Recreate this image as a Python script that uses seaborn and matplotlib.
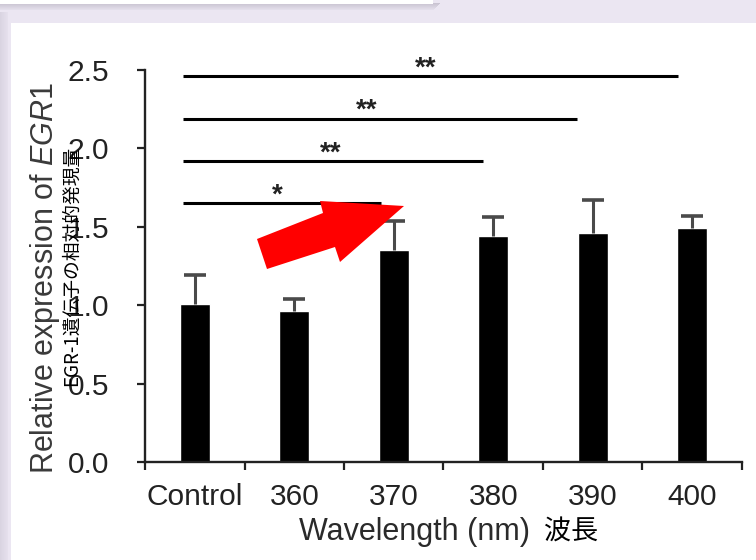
import numpy as np
import pandas as pd
import matplotlib
matplotlib.use('Agg')
import matplotlib.pyplot as plt
from matplotlib.patches import Rectangle, Polygon
import seaborn as sns

# data
groups = ['Control', '360', '370', '380', '390', '400']
expression = [1.01, 0.96, 1.35, 1.44, 1.46, 1.49]
sd_upper = [0.18, 0.08, 0.19, 0.12, 0.21, 0.08]

# significance brackets: Control vs 370/380/390/400
sig_end = [1.87, 2.90, 3.84, 4.86]
sig_height = [1.65, 1.92, 2.19, 2.46]
sig_label = ['*', '**', '**', '**']
sig_label_x = [0.83, 1.37, 1.73, 2.32]

sns.set_theme(style='white')
plt.rcParams['font.family'] = ['Liberation Sans', 'Noto Sans CJK JP']
plt.rcParams['mathtext.fontset'] = 'custom'
plt.rcParams['mathtext.rm'] = 'Liberation Sans'
plt.rcParams['mathtext.it'] = 'Liberation Sans:italic'

W, H = 756, 560
fig = plt.figure(figsize=(W / 100, H / 100), dpi=100, facecolor='#ebe6f2')

def px(x, y):
    return x / W, 1 - y / H

# screenshot frame: white panel, left shadow, top-left box
for i in range(8):
    fig.patches.append(Rectangle(px(i, H), 1 / W, (H - 12) / H, transform=fig.transFigure,
                                 color='#9a94a6', alpha=0.05 + 0.02 * (8 - i), lw=0, zorder=0))
fig.patches.append(Rectangle(px(11, H), (W - 11) / W, (H - 23) / H, transform=fig.transFigure,
                             color='white', lw=0, zorder=0))
for i in range(7):
    fig.patches.append(Rectangle(px(0, 4 + i), (434 + 6 - i) / W, 1 / H, transform=fig.transFigure,
                                 color='#8d8799', alpha=0.35 - 0.045 * i, lw=0, zorder=0))
fig.patches.append(Rectangle(px(0, 4), 433 / W, 4 / H, transform=fig.transFigure,
                             color='white', lw=0, zorder=1))

ax = fig.add_axes([145 / W, 1 - 462 / H, 597 / W, 392 / H])
ax.set_zorder(2)
ax.set_facecolor('none')

df = pd.DataFrame({'group': groups, 'value': expression})
sns.barplot(data=df, x='group', y='value', color='black', width=0.3,
            saturation=1, ax=ax, zorder=2)

xpos = np.arange(len(groups))
tops = np.array(expression) + np.array(sd_upper)
ax.vlines(xpos, expression, tops, color='#4a4a4a', lw=2.2, zorder=3)
ax.hlines(tops, xpos - 0.11, xpos + 0.11, color='#4a4a4a', lw=2.6, zorder=3)

for end, h, lab, lx in zip(sig_end, sig_height, sig_label, sig_label_x):
    ax.plot([-0.12, end], [h, h], color='black', lw=2.2, solid_capstyle='butt',
            clip_on=False, zorder=3)
    ax.text(lx, h + 0.005, lab, ha='center', va='baseline', fontsize=20,
            fontweight='bold', color='#222222', clip_on=False)

ax.set_xlim(-0.5, 5.5)
ax.set_ylim(0, 2.5)
ax.set_yticks([0, 0.5, 1.0, 1.5, 2.0, 2.5])
ax.set_yticklabels(['0.0', '0.5', '1.0', '1.5', '2.0', '2.5'])
ax.set_xticks(xpos)
ax.set_xticklabels(groups)
ax.set_xticks(np.arange(-0.5, 6, 1), minor=True)
ax.tick_params(axis='x', which='major', length=0, pad=15, labelsize=21.5, labelcolor='#222222')
ax.tick_params(axis='x', which='minor', length=6, width=1.6, direction='out',
               color='#222222', bottom=True)
ax.tick_params(axis='y', length=6, width=1.6, direction='out', pad=20,
               labelsize=21.5, labelcolor='#222222', color='#222222', left=True)

sns.despine(ax=ax)
for side in ['left', 'bottom']:
    ax.spines[side].set_linewidth(1.7)
    ax.spines[side].set_color('#222222')

ax.set_ylabel(r'Relative expression of $\it{EGR1}$', fontsize=22, color='#3a3a3a',
              va='center')
ax.yaxis.set_label_coords(-0.167, 0.47)
ax.set_xlabel('Wavelength (nm)', fontsize=22, color='#2a2a2a', va='center')
ax.xaxis.set_label_coords(0.452, -0.178)

# Japanese overlay captions
fig.text(71 / W, 1 - 266 / H, 'EGR-1遺伝子の相対的発現量', rotation=90, ha='center',
         va='center', fontsize=13.5, color='black', zorder=4,
         family=['Noto Sans CJK JP', 'DejaVu Sans'])
fig.text(571 / W, 1 - 532 / H, '波長', ha='center', va='center', fontsize=19.5,
         color='black', family=['Noto Sans CJK JP', 'DejaVu Sans'])

# red arrow annotation
arrow_px = [(257, 239), (323, 213), (320, 201), (404, 206), (340, 262), (335, 247), (267, 269)]
fig.patches.append(Polygon([px(x, y) for x, y in arrow_px], closed=True,
                           transform=fig.transFigure, color='#ff0000', lw=0, zorder=5))

fig.savefig('out.png', dpi=100, facecolor=fig.get_facecolor())
